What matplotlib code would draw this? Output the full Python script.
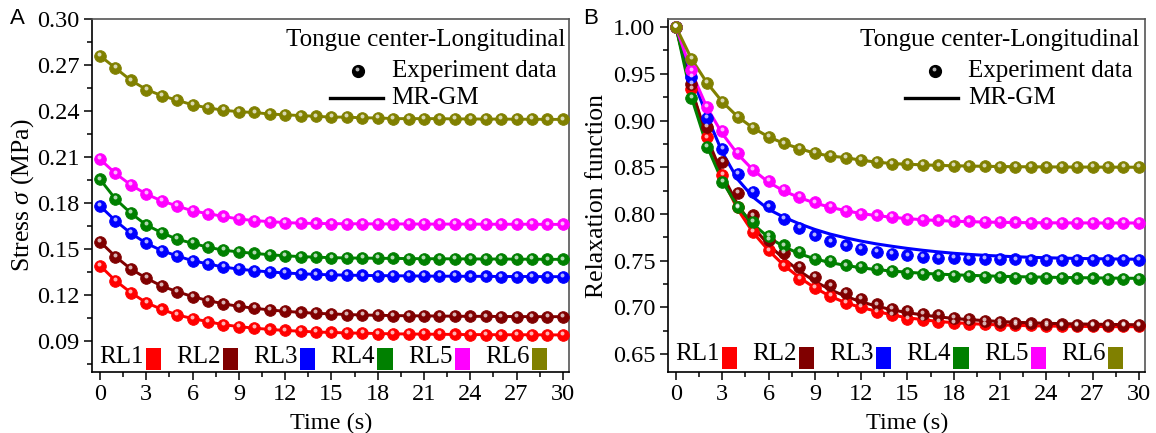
import matplotlib
matplotlib.use("Agg")
import matplotlib.pyplot as plt
from matplotlib.transforms import offset_copy, blended_transform_factory
from matplotlib.lines import Line2D
from matplotlib.patches import Rectangle
from matplotlib.ticker import MultipleLocator, FormatStrFormatter

plt.rcParams['font.family'] = ['Liberation Serif', 'DejaVu Serif']
plt.rcParams['mathtext.fontset'] = 'custom'
plt.rcParams['mathtext.rm'] = 'Liberation Serif'
plt.rcParams['mathtext.it'] = 'Liberation Serif:italic'

# ---------------- data ----------------
time_s = list(range(31))
series_names = ['RL1', 'RL2', 'RL3', 'RL4', 'RL5', 'RL6']
series_colors = ['#FF0000', '#800000', '#0000FF', '#008000', '#FF00FF', '#808000']
x_ticks = [0, 3, 6, 9, 12, 15, 18, 21, 24, 27, 30]
stress_ticks = [0.09, 0.12, 0.15, 0.18, 0.21, 0.24, 0.27, 0.30]
relax_ticks = [0.65, 0.70, 0.75, 0.80, 0.85, 0.90, 0.95, 1.00]

# Panel A: stress (MPa)
stress_rl1 = [0.1391, 0.1293, 0.1215, 0.1149, 0.1106, 0.1069, 0.1046, 0.1025, 0.1006, 0.0993, 0.0983,
              0.0975, 0.0968, 0.0963, 0.0958, 0.0955, 0.0952, 0.0950, 0.0948, 0.0946, 0.0945,
              0.0944, 0.0943, 0.0942, 0.0941, 0.0941, 0.0940, 0.0940, 0.0940, 0.0939, 0.0939]
stress_rl2 = [0.1547, 0.1450, 0.1369, 0.1309, 0.1258, 0.1221, 0.1189, 0.1163, 0.1142, 0.1125, 0.1113,
              0.1102, 0.1093, 0.1086, 0.1080, 0.1076, 0.1072, 0.1069, 0.1067, 0.1065, 0.1064,
              0.1063, 0.1062, 0.1061, 0.1060, 0.1060, 0.1059, 0.1059, 0.1058, 0.1058, 0.1058]
stress_rl3 = [0.1780, 0.1684, 0.1602, 0.1537, 0.1489, 0.1454, 0.1423, 0.1402, 0.1382, 0.1368, 0.1358,
              0.1350, 0.1343, 0.1338, 0.1334, 0.1331, 0.1329, 0.1327, 0.1326, 0.1325, 0.1324,
              0.1323, 0.1322, 0.1322, 0.1321, 0.1321, 0.1320, 0.1320, 0.1320, 0.1319, 0.1319]
stress_rl4 = [0.1954, 0.1826, 0.1733, 0.1656, 0.1606, 0.1563, 0.1537, 0.1511, 0.1492, 0.1480, 0.1471,
              0.1462, 0.1455, 0.1450, 0.1446, 0.1443, 0.1441, 0.1440, 0.1439, 0.1438, 0.1437,
              0.1436, 0.1436, 0.1435, 0.1435, 0.1434, 0.1434, 0.1433, 0.1433, 0.1432, 0.1432]
stress_rl5 = [0.2085, 0.1993, 0.1917, 0.1858, 0.1813, 0.1780, 0.1748, 0.1730, 0.1712, 0.1695, 0.1685,
              0.1678, 0.1672, 0.1668, 0.1666, 0.1665, 0.1664, 0.1664, 0.1663, 0.1663, 0.1663,
              0.1662, 0.1662, 0.1662, 0.1662, 0.1661, 0.1661, 0.1661, 0.1661, 0.1660, 0.1660]
stress_rl6 = [0.2760, 0.2680, 0.2600, 0.2540, 0.2500, 0.2470, 0.2440, 0.2420, 0.2405, 0.2395, 0.2390,
              0.2380, 0.2375, 0.2370, 0.2365, 0.2360, 0.2360, 0.2355, 0.2355, 0.2350, 0.2350,
              0.2350, 0.2350, 0.2348, 0.2348, 0.2347, 0.2347, 0.2346, 0.2346, 0.2345, 0.2345]

# Panel B: relaxation function, experiment data
relax_rl1 = [1.000, 0.934, 0.882, 0.842, 0.807, 0.781, 0.761, 0.745, 0.731, 0.721, 0.712,
             0.705, 0.7005, 0.6955, 0.692, 0.688, 0.6865, 0.685, 0.6838, 0.6828, 0.682,
             0.6816, 0.6812, 0.6809, 0.6807, 0.6805, 0.6804, 0.6803, 0.6802, 0.6801, 0.680]
relax_rl2 = [1.000, 0.939, 0.893, 0.8556, 0.8225, 0.7986, 0.772, 0.7583, 0.7433, 0.7326, 0.7237,
             0.7155, 0.7095, 0.7034, 0.6988, 0.6963, 0.6934, 0.6917, 0.6892, 0.6874, 0.6856,
             0.6845, 0.6837, 0.6830, 0.6825, 0.6820, 0.6817, 0.6814, 0.6812, 0.6810, 0.6810]
relax_rl3 = [1.000, 0.9465, 0.903, 0.870, 0.8432, 0.8235, 0.8082, 0.795, 0.7855, 0.7772, 0.7708,
             0.7665, 0.763, 0.7594, 0.7569, 0.7558, 0.754, 0.7534, 0.7528, 0.7524, 0.752,
             0.7517, 0.7515, 0.7513, 0.7511, 0.751, 0.7509, 0.7508, 0.7507, 0.7506, 0.7505]
relax_rl4 = [1.000, 0.9245, 0.8717, 0.834, 0.808, 0.7915, 0.7765, 0.7665, 0.7594, 0.7523, 0.7497,
             0.7451, 0.743, 0.7409, 0.739, 0.737, 0.7358, 0.7348, 0.734, 0.7334, 0.7328,
             0.7324, 0.732, 0.7318, 0.7316, 0.7314, 0.7312, 0.7311, 0.731, 0.731, 0.7309]
relax_rl5 = [1.000, 0.9537, 0.915, 0.889, 0.8653, 0.8475, 0.835, 0.8254, 0.8186, 0.8125, 0.8075,
             0.8032, 0.8002, 0.7986, 0.7968, 0.795, 0.794, 0.7932, 0.7926, 0.7921, 0.7917,
             0.7914, 0.7911, 0.7909, 0.7908, 0.7907, 0.7906, 0.7905, 0.7905, 0.7904, 0.7904]
relax_rl6 = [1.000, 0.966, 0.9405, 0.920, 0.904, 0.892, 0.8825, 0.8755, 0.870, 0.865, 0.862,
             0.8603, 0.8575, 0.8555, 0.854, 0.8532, 0.8526, 0.852, 0.8516, 0.8513, 0.851,
             0.8508, 0.8506, 0.8505, 0.8504, 0.8503, 0.8502, 0.8502, 0.8501, 0.8501, 0.850]

# Panel B: MR-GM model curves
fit_rl1 = [1.000, 0.933, 0.880, 0.838, 0.805, 0.780, 0.761, 0.745, 0.732, 0.721, 0.712,
           0.705, 0.700, 0.696, 0.692, 0.689, 0.687, 0.685, 0.6838, 0.6828, 0.682,
           0.6814, 0.6809, 0.6805, 0.6802, 0.680, 0.6798, 0.6797, 0.6796, 0.6795, 0.6795]
fit_rl2 = [1.000, 0.934, 0.882, 0.842, 0.810, 0.786, 0.767, 0.752, 0.739, 0.728, 0.719,
           0.712, 0.706, 0.7015, 0.6975, 0.6945, 0.692, 0.690, 0.6883, 0.687, 0.686,
           0.685, 0.6842, 0.6836, 0.6831, 0.6827, 0.6824, 0.6821, 0.6819, 0.6817, 0.6815]
fit_rl3 = [1.000, 0.948, 0.905, 0.866, 0.837, 0.818, 0.805, 0.7965, 0.7895, 0.7835, 0.7785,
           0.7745, 0.771, 0.768, 0.7655, 0.7632, 0.7612, 0.7595, 0.758, 0.7568, 0.7558,
           0.755, 0.7543, 0.7537, 0.7532, 0.7528, 0.7525, 0.7522, 0.752, 0.7518, 0.7516]
fit_rl4 = [1.000, 0.925, 0.873, 0.835, 0.808, 0.789, 0.775, 0.765, 0.7575, 0.752, 0.748,
           0.745, 0.7425, 0.7405, 0.739, 0.7377, 0.7366, 0.7357, 0.735, 0.7344, 0.7339,
           0.7334, 0.733, 0.7327, 0.7324, 0.7321, 0.7319, 0.7317, 0.7315, 0.7313, 0.7312]
fit_rl5 = [1.000, 0.952, 0.914, 0.886, 0.864, 0.847, 0.834, 0.8245, 0.8175, 0.8118, 0.8072,
           0.8035, 0.8005, 0.7983, 0.7965, 0.795, 0.7939, 0.793, 0.7923, 0.7918, 0.7914,
           0.7911, 0.7909, 0.7907, 0.7906, 0.7905, 0.7905, 0.7904, 0.7904, 0.7904, 0.7904]
fit_rl6 = [1.000, 0.966, 0.9405, 0.920, 0.904, 0.892, 0.8825, 0.8755, 0.870, 0.865, 0.862,
           0.8603, 0.8575, 0.8555, 0.854, 0.8532, 0.8526, 0.852, 0.8516, 0.8513, 0.851,
           0.8508, 0.8506, 0.8505, 0.8504, 0.8503, 0.8502, 0.8502, 0.8501, 0.8501, 0.850]

stress_all = [stress_rl1, stress_rl2, stress_rl3, stress_rl4, stress_rl5, stress_rl6]
relax_all = [relax_rl1, relax_rl2, relax_rl3, relax_rl4, relax_rl5, relax_rl6]
fit_all = [fit_rl1, fit_rl2, fit_rl3, fit_rl4, fit_rl5, fit_rl6]

# ---------------- figure ----------------
W, H = 1156, 433
fig = plt.figure(figsize=(W / 100, H / 100), dpi=100)


def px_axes(l, t, r, b):
    return fig.add_axes([l / W, 1 - b / H, (r - l) / W, (b - t) / H])


axA = px_axes(92, 19, 569, 372)
axB = px_axes(668, 19, 1145, 372)

FS_TICK = 17.5
FS_LAB = 18.5
FS_TXT = 18
MS = 8.4


def glossy(ax, x, y, color, ms=MS, z=3):
    ax.plot(x, y, ls='none', marker='o', ms=ms, mfc=color, mec=color, mew=0.6, zorder=z)
    tr = offset_copy(ax.transData, fig=fig, x=-0.5, y=1.3, units='points')
    ax.plot(x, y, ls='none', marker='o', ms=ms * 0.34, mfc='white', mec='none',
            alpha=0.7, transform=tr, zorder=z + 0.1)


def style_axes(ax, yticks, ylim, ylabel, fmt):
    ax.set_xlim(-0.52, 30.4)
    ax.set_ylim(*ylim)
    ax.set_xticks(x_ticks)
    ax.xaxis.set_minor_locator(MultipleLocator(1.5))
    ax.set_yticks(yticks)
    step = yticks[1] - yticks[0]
    ax.yaxis.set_minor_locator(MultipleLocator(step / 2))
    ax.yaxis.set_major_formatter(FormatStrFormatter(fmt))
    ax.tick_params(which='major', direction='out', length=6, width=1.1, labelsize=FS_TICK, pad=3)
    ax.tick_params(which='minor', direction='out', length=3.5, width=1.1)
    ax.tick_params(top=False, right=False, which='both')
    for s in ['left', 'bottom']:
        ax.spines[s].set_linewidth(1.2)
        ax.spines[s].set_color('black')
    for s in ['top', 'right']:
        ax.spines[s].set_linewidth(1.2)
        ax.spines[s].set_color('#555555')
    ax.set_xlabel('Time (s)', fontsize=FS_TICK)
    ax.xaxis.set_label_coords(0.502, -0.115)
    ax.set_ylabel(ylabel, fontsize=FS_LAB)


def annotate(ax, tx, mx, tlx0, tlx1, lx):
    ax.text(tx, 0.9405, 'Tongue center-Longitudinal', transform=ax.transAxes,
            ha='right', va='center', fontsize=FS_TXT)
    ax.plot([mx], [0.8527], ls='none', marker='o', ms=8.5, mfc='black', mec='black',
            transform=ax.transAxes, zorder=6)
    tr = offset_copy(ax.transAxes, fig=fig, x=-0.5, y=1.4, units='points')
    ax.plot([mx], [0.8527], ls='none', marker='o', ms=2.8, mfc='white', mec='none', alpha=0.7,
            transform=tr, zorder=6.1)
    ax.text(lx, 0.8527, 'Experiment data', transform=ax.transAxes, ha='left', va='center',
            fontsize=FS_TXT)
    ax.add_line(Line2D([tlx0, tlx1], [0.776, 0.776], color='black', lw=2.4,
                       transform=ax.transAxes, zorder=6))
    ax.text(lx, 0.776, 'MR-GM', transform=ax.transAxes, ha='left', va='center', fontsize=FS_TXT)


def rl_keys(ax, ybot, ytop, ytxt):
    tr = blended_transform_factory(ax.transData, ax.transAxes)
    for i, (name, c) in enumerate(zip(series_names, series_colors)):
        x0 = 5 * i
        ax.text(x0 - 0.05, ytxt, name, transform=tr, ha='left', va='center', fontsize=FS_TXT,
                zorder=7)
        ax.add_patch(Rectangle((x0 + 2.98, ybot), 0.98, ytop - ybot, transform=tr,
                               facecolor=c, edgecolor='none', zorder=7))


# Panel A
for vals, c in zip(stress_all, series_colors):
    axA.plot(time_s, vals, color=c, lw=2.1, zorder=2)
    glossy(axA, time_s, vals, c)
style_axes(axA, stress_ticks, (0.0697, 0.300), r'Stress $\sigma$ (MPa)', '%.2f')
axA.yaxis.set_label_coords(-0.118, 0.5)
annotate(axA, 0.9916, 0.5577, 0.499, 0.610, 0.628)
rl_keys(axA, 0.006, 0.068, 0.0433)

# Panel B
for fit, c in zip(fit_all, series_colors):
    axB.plot(time_s, fit, color=c, lw=2.2, zorder=2)
for vals, c in zip(relax_all, series_colors):
    glossy(axB, time_s, vals, c)
style_axes(axB, relax_ticks, (0.631, 1.0086), 'Relaxation function', '%.2f')
axB.yaxis.set_label_coords(-0.126, 0.5)
annotate(axB, 0.9874, 0.5598, 0.4969, 0.608, 0.629)
rl_keys(axB, 0.008, 0.071, 0.05)

fig.text(10 / W, 1 - 18 / H, 'A', family='Liberation Sans', fontsize=16, ha='left', va='center')
fig.text(583 / W, 1 - 18 / H, 'B', family='Liberation Sans', fontsize=16, ha='left', va='center')

fig.savefig('out.png', dpi=100)
